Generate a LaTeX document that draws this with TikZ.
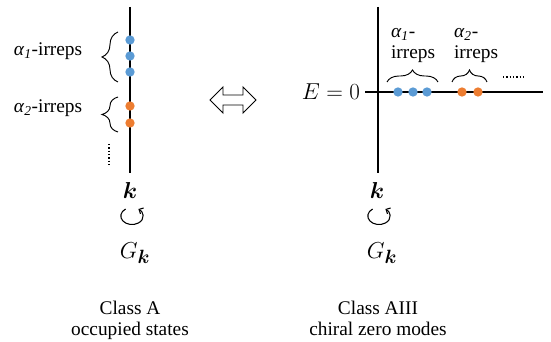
\documentclass[tikz,border=0pt]{standalone}
\usepackage{fontspec}
\setmainfont{Liberation Serif}
\usepackage{bm}
\usetikzlibrary{decorations.pathreplacing,shapes.arrows,arrows.meta}
\definecolor{dotblue}{RGB}{91,155,213}
\definecolor{dotorange}{RGB}{237,125,49}
\newcommand{\irr}[1]{\textit{α}\textsubscript{\textit{#1}}}
\begin{document}
\begin{tikzpicture}[x=0.75pt, y=-0.75pt, line width=1.5pt,
    bluedot/.style={circle, fill=dotblue, minimum size=7pt, inner sep=0pt},
    orangedot/.style={circle, fill=dotorange, minimum size=7pt, inner sep=0pt},
    brc/.style={decorate, decoration={brace, amplitude=#1}, line width=0.7pt},
    lbl/.style={font=\fontsize{14.5}{16}\selectfont, inner sep=0pt},
    mth/.style={font=\fontsize{19}{22}\selectfont, inner sep=0pt},
    rot/.style={line width=0.8pt, -{Straight Barb[length=2.5pt, width=5pt]}}]
  \useasboundingbox (0,0) rectangle (551,342);

  % left: class A
  \coordinate (Ltop) at (130,7);
  \coordinate (Lbot) at (130,173);
  \draw (Ltop) -- (Lbot);
  \node[bluedot] (lb1) at (130,40) {};
  \node[bluedot] (lb2) at (130,56) {};
  \node[bluedot] (lb3) at (130,72) {};
  \node[orangedot] (lo1) at (130,106) {};
  \node[orangedot] (lo2) at (130,123) {};
  \draw[brc=12pt] (118,82) -- (118,32);
  \draw[brc=12pt] (118,132) -- (118,97);
  \node[lbl, anchor=base] (la1) at (48,56) {\irr{1}-irreps};
  \node[lbl, anchor=base] (la2) at (48,113) {\irr{2}-irreps};
  \draw[line width=1pt, dash pattern=on 1pt off 1.5pt] (109,144) -- (109,166);
  \node[mth] (lk) at (130,191) {$\bm{k}$};
  \coordinate (lrot) at (132,216);
  \draw[rot] (lrot) ++(125:8.4pt and 6.4pt) arc[start angle=125, end angle=415, x radius=8.4pt, y radius=6.4pt];
  \node[mth] (lG) at (135,253) {$G_{\bm{k}}$};
  \node[lbl, align=center, anchor=base] (lcls) at (130,336) {Class A\\occupied states};

  % equivalence
  \node[double arrow, draw, fill=white, line width=0.7pt, minimum height=34.5pt,
    inner xsep=0pt, inner ysep=3.4pt, double arrow head extend=6pt] (eqv) at (233,100) {};

  % right: class AIII
  \coordinate (Rtop) at (378,7);
  \coordinate (Rbot) at (378,173);
  \coordinate (Hleft) at (365,92);
  \coordinate (Hright) at (543,92);
  \draw (Rtop) -- (Rbot);
  \draw (Hleft) -- (Hright);
  \node[mth, anchor=east] (E0) at (361,92) {$E=0$};
  \node[bluedot] (rb1) at (398,92) {};
  \node[bluedot] (rb2) at (413,92) {};
  \node[bluedot] (rb3) at (427,92) {};
  \node[orangedot] (ro1) at (462,92) {};
  \node[orangedot] (ro2) at (478,92) {};
  \draw[brc=9pt] (387,82) -- (438,82);
  \draw[brc=9pt] (452,82) -- (487,82);
  \node[lbl, align=left, anchor=base west] (ra1) at (390,59) {\irr{1}-\\irreps};
  \node[lbl, align=left, anchor=base west] (ra2) at (453,59) {\irr{2}-\\irreps};
  \draw[line width=1pt, dash pattern=on 1pt off 1.5pt] (503,77) -- (526,77);
  \node[mth] (rk) at (377,191) {$\bm{k}$};
  \coordinate (rrot) at (379,216);
  \draw[rot] (rrot) ++(125:8.4pt and 6.4pt) arc[start angle=125, end angle=415, x radius=8.4pt, y radius=6.4pt];
  \node[mth] (rG) at (382,253) {$G_{\bm{k}}$};
  \node[lbl, align=center, anchor=base] (rcls) at (378,336) {Class AIII\\chiral zero modes};
\end{tikzpicture}
\end{document}
